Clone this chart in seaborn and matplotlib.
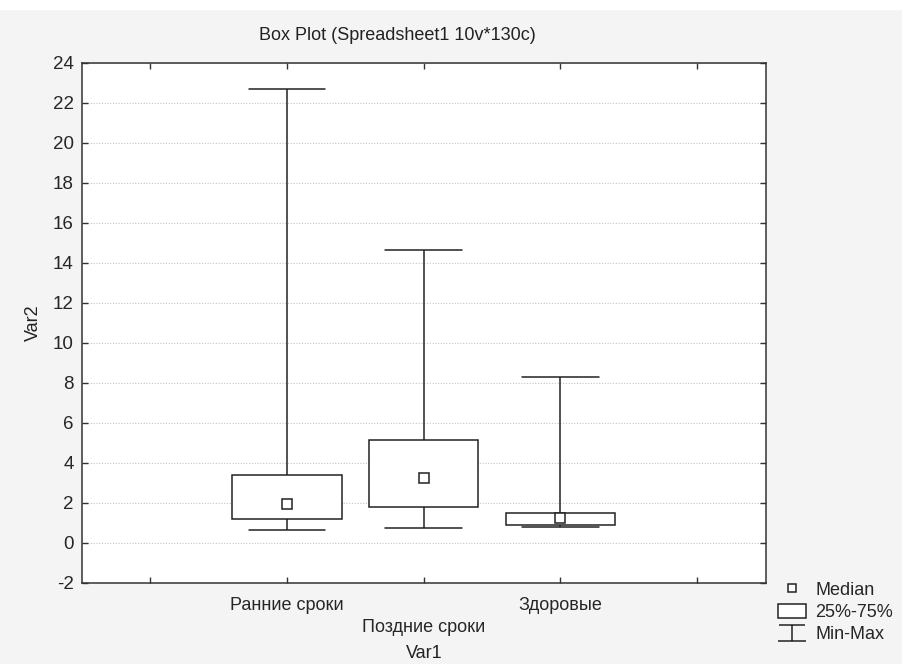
import numpy as np
import pandas as pd
import matplotlib
matplotlib.use("Agg")
import matplotlib.pyplot as plt
import seaborn as sns
from matplotlib.lines import Line2D
from matplotlib.patches import Rectangle
from matplotlib.path import Path

# groups and five-number summaries (min, q1, median, q3, max)
groups = ["Ранние сроки", "Поздние сроки", "Здоровые"]
mins = [0.65, 0.75, 0.82]
q1s = [1.22, 1.80, 0.92]
medians = [1.93, 3.23, 1.25]
q3s = [3.38, 5.17, 1.52]
maxs = [22.7, 14.65, 8.27]

y_ticks = list(range(-2, 25, 2))

rows = []
for g, a, b, c, d, e in zip(groups, mins, q1s, medians, q3s, maxs):
    for v in (a, b, c, d, e):
        rows.append({"Var1": g, "Var2": v})
df = pd.DataFrame(rows)

sns.set_style("white")
plt.rcParams["font.family"] = ["Liberation Sans", "DejaVu Sans"]

fig = plt.figure(figsize=(9.03, 6.64), dpi=100, facecolor="#f4f4f4")
# thin white strip along the top, as in the original export
fig.patches.append(Rectangle((0, 1 - 10 / 664), 1, 10 / 664, transform=fig.transFigure,
                             facecolor="white", edgecolor="none", zorder=-1))
ax = fig.add_axes([0.0908, 0.122, 0.757, 0.7836])
ax.set_facecolor("white")

sns.boxplot(data=df, x="Var1", y="Var2", order=groups, whis=(0, 100),
            width=0.8, color="white", linecolor="#222222", linewidth=1.1,
            capwidths=0.56, fliersize=0,
            medianprops={"linewidth": 0, "alpha": 0}, ax=ax)
sns.pointplot(data=df, x="Var1", y="Var2", order=groups, estimator="median",
              errorbar=None, markers="s", linestyles="none", color="#222222",
              markerfacecolor="white", markeredgecolor="#222222",
              markersize=7, markeredgewidth=1.1, ax=ax)

ax.set_xlim(-1.5, 3.5)
ax.set_ylim(-2, 24)
ax.set_yticks(y_ticks)
ax.set_yticklabels([str(t) for t in y_ticks], fontsize=13.5)
ax.set_xticks([-1, 0, 1, 2, 3])
ax.set_xticklabels(["", groups[0], "\n" + groups[1], groups[2], ""], fontsize=13,
                   linespacing=1.36)
ax.tick_params(direction="in", length=4, width=1, color="#333333",
               top=True, right=True, bottom=True, left=True)
ax.tick_params(axis="x", pad=10)
ax.tick_params(axis="y", pad=6)
ax.yaxis.grid(True, linestyle=(0, (1, 1.5)), color="#c4c4c4", linewidth=0.8)
ax.xaxis.grid(False)
ax.set_axisbelow(True)
for s in ax.spines.values():
    s.set_color("#333333")
    s.set_linewidth(1.1)

ax.set_xlabel("Var1", fontsize=13, labelpad=7, color="#222222")
ax.set_ylabel("Var2", fontsize=13, labelpad=8, color="#222222")

fig.text(0.44, 1 - 36 / 664, "Box Plot (Spreadsheet1 10v*130c)", fontsize=13,
         ha="center", va="center", color="#222222")

# legend
whisker_path = Path([(-1.05, 0.63), (1.05, 0.63), (0, 0.63), (0, -0.63),
                     (-1.1, -0.63), (1.1, -0.63)],
                    [Path.MOVETO, Path.LINETO, Path.MOVETO, Path.LINETO,
                     Path.MOVETO, Path.LINETO])
handles = [
    Line2D([], [], marker="s", linestyle="none", markerfacecolor="white",
           markeredgecolor="#222222", markersize=6, markeredgewidth=1.1),
    Rectangle((0, 0), 1, 1, facecolor="white", edgecolor="#222222", linewidth=1.1),
    Line2D([], [], marker=whisker_path, linestyle="none", color="#222222",
           markersize=20, markeredgewidth=1.1),
]
fig.legend(handles, ["Median", "25%-75%", "Min-Max"], loc="lower left",
           bbox_to_anchor=(0.848, 0.012), frameon=False, fontsize=13,
           handlelength=1.55, handleheight=0.85, handletextpad=0.5,
           labelspacing=0.27, borderpad=0.2)

fig.savefig("out.png", dpi=100, facecolor=fig.get_facecolor())
